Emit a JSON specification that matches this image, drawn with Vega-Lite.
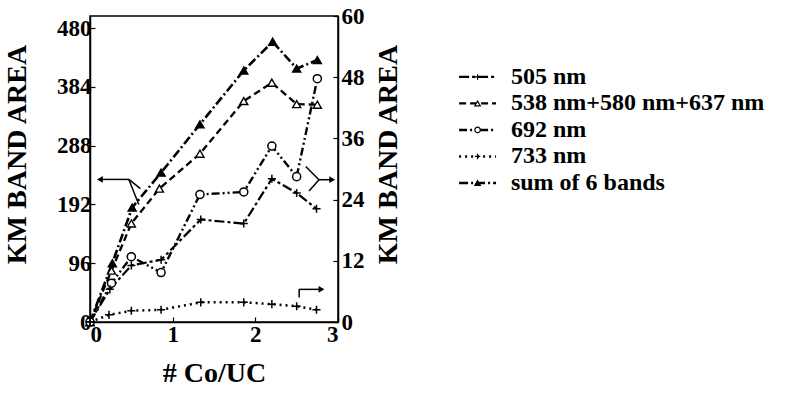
{
  "$schema": "https://vega.github.io/schema/vega-lite/v6.json",
  "padding": {"left": 2, "top": 4, "right": 0, "bottom": 0},
  "spacing": 33,
  "background": "white",
  "config": {
    "font": "Liberation Serif",
    "view": {"stroke": "black", "strokeWidth": 1.5},
    "axis": {
      "grid": false,
      "labelFont": "Liberation Serif",
      "labelFontWeight": "bold",
      "labelFontSize": 23,
      "labelColor": "black",
      "titleFont": "Liberation Serif",
      "titleFontWeight": "bold",
      "titleFontSize": 28,
      "titleColor": "black",
      "domainColor": "black",
      "domainWidth": 1.5,
      "tickColor": "black",
      "tickSize": -5,
      "tickWidth": 1.2,
      "labelPadding": 6
    }
  },
  "datasets": {
    "series": [
      {"s": "sum of 6 bands", "x": 0, "y": 0},
      {"s": "sum of 6 bands", "x": 0.27, "y": 96},
      {"s": "sum of 6 bands", "x": 0.51, "y": 187},
      {"s": "sum of 6 bands", "x": 0.86, "y": 244},
      {"s": "sum of 6 bands", "x": 1.33, "y": 323},
      {"s": "sum of 6 bands", "x": 1.86, "y": 411},
      {"s": "sum of 6 bands", "x": 2.21, "y": 458},
      {"s": "sum of 6 bands", "x": 2.5, "y": 414},
      {"s": "sum of 6 bands", "x": 2.75, "y": 428},
      {"s": "538 nm+580 nm+637 nm", "x": 0, "y": 0},
      {"s": "538 nm+580 nm+637 nm", "x": 0.26, "y": 84},
      {"s": "538 nm+580 nm+637 nm", "x": 0.5, "y": 161},
      {"s": "538 nm+580 nm+637 nm", "x": 0.84, "y": 218},
      {"s": "538 nm+580 nm+637 nm", "x": 1.33, "y": 275},
      {"s": "538 nm+580 nm+637 nm", "x": 1.86, "y": 361},
      {"s": "538 nm+580 nm+637 nm", "x": 2.2, "y": 391},
      {"s": "538 nm+580 nm+637 nm", "x": 2.5, "y": 356},
      {"s": "538 nm+580 nm+637 nm", "x": 2.75, "y": 355}
    ],
    "seriesR": [
      {"s": "692 nm", "x": 0, "y": 0},
      {"s": "692 nm", "x": 0.26, "y": 7.6},
      {"s": "692 nm", "x": 0.5, "y": 12.8},
      {"s": "692 nm", "x": 0.86, "y": 9.7},
      {"s": "692 nm", "x": 1.33, "y": 25.0},
      {"s": "692 nm", "x": 1.86, "y": 25.5},
      {"s": "692 nm", "x": 2.2, "y": 34.5},
      {"s": "692 nm", "x": 2.5, "y": 28.5},
      {"s": "692 nm", "x": 2.75, "y": 47.7},
      {"s": "505 nm", "x": 0, "y": 0},
      {"s": "505 nm", "x": 0.24, "y": 6.4},
      {"s": "505 nm", "x": 0.5, "y": 11.1},
      {"s": "505 nm", "x": 0.86, "y": 12.2},
      {"s": "505 nm", "x": 1.34, "y": 20.1},
      {"s": "505 nm", "x": 1.86, "y": 19.3},
      {"s": "505 nm", "x": 2.2, "y": 28.1},
      {"s": "505 nm", "x": 2.5, "y": 25.3},
      {"s": "505 nm", "x": 2.74, "y": 22.2},
      {"s": "733 nm", "x": 0, "y": 0},
      {"s": "733 nm", "x": 0.23, "y": 1.4},
      {"s": "733 nm", "x": 0.5, "y": 2.2},
      {"s": "733 nm", "x": 0.86, "y": 2.4},
      {"s": "733 nm", "x": 1.34, "y": 3.85},
      {"s": "733 nm", "x": 1.86, "y": 3.85},
      {"s": "733 nm", "x": 2.2, "y": 3.5},
      {"s": "733 nm", "x": 2.5, "y": 3.1},
      {"s": "733 nm", "x": 2.74, "y": 2.4}
    ],
    "arrowL": [
      {"x": 0.12, "y": 233, "x2": 0.47, "y2": 233},
      {"x": 0.47, "y": 233, "x2": 0.61, "y2": 218},
      {"x": 0.47, "y": 233, "x2": 0.59, "y2": 192}
    ],
    "headL": [{"x": 0.12, "y": 233}],
    "arrowR": [
      {"x": 2.61, "y": 30.5, "x2": 2.77, "y2": 27.9},
      {"x": 2.65, "y": 25.7, "x2": 2.77, "y2": 27.9},
      {"x": 2.77, "y": 27.9, "x2": 2.93, "y2": 27.9},
      {"x": 2.53, "y": 4.8, "x2": 2.53, "y2": 6.4},
      {"x": 2.53, "y": 6.4, "x2": 2.8, "y2": 6.4}
    ],
    "headR": [
      {"x": 2.93, "y": 27.9},
      {"x": 2.8, "y": 6.4}
    ],
    "legend": [
      {"s": "505 nm", "row": 1},
      {"s": "538 nm+580 nm+637 nm", "row": 2},
      {"s": "692 nm", "row": 3},
      {"s": "733 nm", "row": 4},
      {"s": "sum of 6 bands", "row": 5}
    ]
  },
  "hconcat": [
    {
      "width": 248,
      "height": 306,
      "layer": [
        {
          "layer": [
            {
              "data": {"name": "series"},
              "mark": {"type": "line", "color": "black"},
              "encoding": {
                "x": {"field": "x", "type": "quantitative", "scale": {"domain": [0, 3]}, "axis": {"values": [0, 1, 2, 3], "format": "d", "title": "# Co/UC", "titlePadding": 13}},
                "y": {"field": "y", "type": "quantitative", "scale": {"domain": [0, 480]}, "axis": {"values": [0, 96, 192, 288, 384, 480], "labelPadding": 4, "title": "KM BAND AREA", "titleAngle": -90, "titleX": -73, "titleY": 138, "titleBaseline": "middle"}},
                "detail": {"field": "s"},
                "strokeDash": {"field": "s", "type": "nominal", "legend": null, "scale": {"domain": ["505 nm", "538 nm+580 nm+637 nm", "692 nm", "733 nm", "sum of 6 bands"], "range": [[10, 3, 3, 3], [7, 4], [8, 3, 2, 3, 2, 3], [2, 4], [9, 3, 2, 3]]}},
                "strokeWidth": {"field": "s", "type": "nominal", "legend": null, "scale": {"domain": ["505 nm", "538 nm+580 nm+637 nm", "692 nm", "733 nm", "sum of 6 bands"], "range": [2.2, 2.6, 2.4, 2.2, 1.3]}}
              }
            },
            {
              "data": {"name": "series"},
              "mark": {"type": "point", "stroke": "black", "strokeWidth": 1.4, "opacity": 1, "size": 65},
              "encoding": {
                "x": {"field": "x", "type": "quantitative"},
                "y": {"field": "y", "type": "quantitative"},
                "shape": {"field": "s", "type": "nominal", "legend": null, "scale": {"domain": ["505 nm", "538 nm+580 nm+637 nm", "692 nm", "733 nm", "sum of 6 bands"], "range": ["M-1,0L1,0M0,-1L0,1", "triangle-up", "circle", "M-1,0L1,0M0,-1L0,1", "triangle-up"]}},
                "fill": {"field": "s", "type": "nominal", "legend": null, "scale": {"domain": ["505 nm", "538 nm+580 nm+637 nm", "692 nm", "733 nm", "sum of 6 bands"], "range": ["white", "white", "white", "white", "black"]}}
              }
            },
            {
              "data": {"name": "arrowL"},
              "mark": {"type": "rule", "color": "black", "strokeWidth": 1.5},
              "encoding": {
                "x": {"field": "x", "type": "quantitative"},
                "y": {"field": "y", "type": "quantitative"},
                "x2": {"field": "x2"},
                "y2": {"field": "y2"}
              }
            },
            {
              "data": {"name": "headL"},
              "mark": {"type": "point", "shape": "triangle-left", "filled": true, "color": "black", "size": 45, "opacity": 1},
              "encoding": {
                "x": {"field": "x", "type": "quantitative"},
                "y": {"field": "y", "type": "quantitative"}
              }
            }
          ]
        },
        {
          "layer": [
            {
              "data": {"name": "seriesR"},
              "mark": {"type": "line", "color": "black"},
              "encoding": {
                "x": {"field": "x", "type": "quantitative"},
                "y": {"field": "y", "type": "quantitative", "scale": {"domain": [0, 60]}, "axis": {"values": [0, 12, 24, 36, 48, 60], "labelPadding": 8, "title": "KM BAND AREA", "orient": "right", "titleAngle": -90, "titleX": 50, "titleY": 138, "titleBaseline": "middle"}},
                "detail": {"field": "s"},
                "strokeDash": {"field": "s", "type": "nominal", "legend": null},
                "strokeWidth": {"field": "s", "type": "nominal", "legend": null}
              }
            },
            {
              "data": {"name": "seriesR"},
              "mark": {"type": "point", "stroke": "black", "strokeWidth": 1.5, "opacity": 1, "size": 65},
              "encoding": {
                "x": {"field": "x", "type": "quantitative"},
                "y": {"field": "y", "type": "quantitative"},
                "shape": {"field": "s", "type": "nominal", "legend": null},
                "fill": {"field": "s", "type": "nominal", "legend": null}
              }
            },
            {
              "data": {"name": "arrowR"},
              "mark": {"type": "rule", "color": "black", "strokeWidth": 1.5},
              "encoding": {
                "x": {"field": "x", "type": "quantitative"},
                "y": {"field": "y", "type": "quantitative"},
                "x2": {"field": "x2"},
                "y2": {"field": "y2"}
              }
            },
            {
              "data": {"name": "headR"},
              "mark": {"type": "point", "shape": "triangle-right", "filled": true, "color": "black", "size": 45, "opacity": 1},
              "encoding": {
                "x": {"field": "x", "type": "quantitative"},
                "y": {"field": "y", "type": "quantitative"}
              }
            }
          ]
        }
      ],
      "resolve": {"scale": {"y": "independent"}}
    },
    {
      "width": 330,
      "height": 307,
      "view": {"stroke": null},
      "data": {"name": "legend"},
      "encoding": {
        "y": {"field": "row", "type": "quantitative", "scale": {"domain": [-1.3, 10.285], "reverse": true, "nice": false, "zero": false}, "axis": null}
      },
      "layer": [
        {
          "mark": {"type": "rule", "color": "black"},
          "encoding": {
            "x": {"datum": 0.7, "type": "quantitative", "scale": {"domain": [0, 10]}, "axis": null},
            "x2": {"datum": 1.82},
            "strokeDash": {"field": "s", "type": "nominal", "legend": null, "scale": {"domain": ["505 nm", "538 nm+580 nm+637 nm", "692 nm", "733 nm", "sum of 6 bands"], "range": [[6, 4], [4, 6], [7, 3], [1.5, 3], [5, 6]]}},
            "strokeWidth": {"field": "s", "type": "nominal", "legend": null, "scale": {"domain": ["505 nm", "538 nm+580 nm+637 nm", "692 nm", "733 nm", "sum of 6 bands"], "range": [2.5, 2, 2.5, 2, 1.3]}}
          }
        },
        {
          "mark": {"type": "point", "stroke": "black", "strokeWidth": 1.2, "opacity": 1, "size": 30},
          "encoding": {
            "x": {"datum": 1.26, "type": "quantitative"},
            "shape": {"field": "s", "type": "nominal", "legend": null, "scale": {"domain": ["505 nm", "538 nm+580 nm+637 nm", "692 nm", "733 nm", "sum of 6 bands"], "range": ["M-1,0L1,0M0,-1L0,1", "triangle-up", "circle", "M-1,0L1,0M0,-1L0,1", "triangle-up"]}},
            "fill": {"field": "s", "type": "nominal", "legend": null, "scale": {"domain": ["505 nm", "538 nm+580 nm+637 nm", "692 nm", "733 nm", "sum of 6 bands"], "range": ["white", "white", "white", "white", "black"]}}
          }
        },
        {
          "mark": {"type": "text", "align": "left", "baseline": "middle", "fontSize": 24, "fontWeight": "bold", "font": "Liberation Serif", "color": "black"},
          "encoding": {
            "x": {"datum": 2.27, "type": "quantitative"},
            "text": {"field": "s"}
          }
        }
      ]
    }
  ]
}
